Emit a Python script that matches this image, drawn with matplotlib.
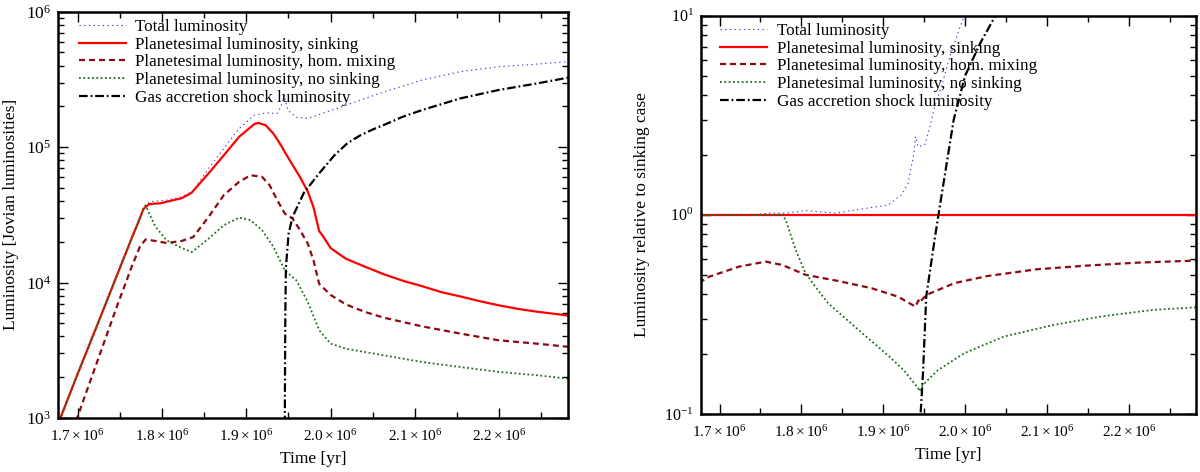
import matplotlib
matplotlib.use("Agg")
import matplotlib.pyplot as plt
from matplotlib.ticker import FixedLocator, FixedFormatter, MultipleLocator, LogLocator

plt.rcParams["font.family"] = ["Liberation Serif", "DejaVu Serif"]
plt.rcParams["mathtext.fontset"] = "stix"
plt.rcParams["font.size"] = 11

# ---- left panel: absolute luminosities [L_Jup] vs time [yr]
t_sink = [1.675e6, 1.701e6, 1.724e6, 1.747e6, 1.765e6, 1.772e6, 1.778e6, 1.785e6,
          1.798e6, 1.8235e6, 1.835e6, 1.8552e6, 1.8733e6, 1.8914e6, 1.9095e6, 1.914e6,
          1.9231e6, 1.9321e6, 1.9412e6, 1.948e6, 1.9548e6, 1.9638e6, 1.9729e6, 1.9797e6,
          1.9864e6, 1.991e6, 2.0e6, 2.0091e6, 2.0181e6, 2.0407e6, 2.0634e6, 2.086e6,
          2.1086e6, 2.1312e6, 2.1539e6, 2.1765e6, 2.1991e6, 2.2217e6, 2.2444e6, 2.283e6]
L_sink = [8.5e2, 2.2e3, 5.0e3, 1.15e4, 2.2e4, 2.8e4, 3.5e4, 3.8e4,
          3.85e4, 4.2e4, 4.6e4, 6.4e4, 8.7e4, 1.19e5, 1.48e5, 1.51e5,
          1.45e5, 1.26e5, 1.03e5, 8.7e4, 7.4e4, 6.0e4, 4.7e4, 3.6e4,
          2.4e4, 2.2e4, 1.8e4, 1.64e4, 1.50e4, 1.31e4, 1.15e4, 1.03e4,
          9.4e3, 8.5e3, 7.9e3, 7.3e3, 6.8e3, 6.4e3, 6.1e3, 5.7e3]

t_total = [1.675e6, 1.701e6, 1.724e6, 1.747e6, 1.765e6, 1.772e6, 1.778e6, 1.785e6,
           1.8054e6, 1.8235e6, 1.8371e6, 1.8552e6, 1.8733e6, 1.8914e6, 1.9095e6, 1.9231e6,
           1.9363e6, 1.9412e6, 1.9448e6, 1.9493e6, 1.9593e6, 1.9729e6, 1.9955e6, 2.0181e6,
           2.0634e6, 2.1086e6, 2.1539e6, 2.1991e6, 2.2444e6, 2.283e6]
L_total = [8.5e2, 2.2e3, 5.0e3, 1.15e4, 2.2e4, 2.8e4, 3.5e4, 3.95e4,
           4.06e4, 4.3e4, 4.75e4, 6.95e4, 9.8e4, 1.37e5, 1.72e5, 1.79e5,
           1.77e5, 1.99e5, 2.42e5, 1.87e5, 1.66e5, 1.63e5, 1.82e5, 2.04e5,
           2.56e5, 3.13e5, 3.61e5, 3.92e5, 4.1e5, 4.28e5]

t_hom = [1.698e6, 1.724e6, 1.7466e6, 1.7647e6, 1.7738e6, 1.7805e6, 1.7919e6, 1.8054e6,
         1.8235e6, 1.8371e6, 1.8552e6, 1.8733e6, 1.8914e6, 1.905e6, 1.9186e6, 1.9276e6,
         1.9367e6, 1.9457e6, 1.9548e6, 1.9638e6, 1.9729e6, 1.9797e6, 1.9864e6, 2.0e6,
         2.0181e6, 2.0407e6, 2.0634e6, 2.1086e6, 2.1539e6, 2.1991e6, 2.2444e6, 2.283e6]
L_hom = [9.5e2, 2.7e3, 6.7e3, 1.34e4, 1.84e4, 2.08e4, 2.03e4, 1.96e4,
         2.03e4, 2.17e4, 3.05e4, 4.42e4, 5.54e4, 6.2e4, 6.04e4, 5.24e4,
         4.06e4, 3.23e4, 2.97e4, 2.44e4, 1.94e4, 1.46e4, 9.8e3, 8.1e3,
         6.9e3, 6.07e3, 5.5e3, 4.75e3, 4.2e3, 3.75e3, 3.54e3, 3.35e3]

t_nosink = [1.675e6, 1.701e6, 1.724e6, 1.747e6, 1.765e6, 1.772e6, 1.778e6, 1.7805e6,
            1.7919e6, 1.8054e6, 1.8235e6, 1.8354e6, 1.8552e6, 1.8733e6, 1.8914e6, 1.905e6,
            1.9186e6, 1.9321e6, 1.9457e6, 1.9593e6, 1.9729e6, 1.9864e6, 2.0e6, 2.0181e6,
            2.0634e6, 2.1086e6, 2.1539e6, 2.1991e6, 2.2444e6, 2.283e6]
L_nosink = [8.5e2, 2.2e3, 5.0e3, 1.15e4, 2.2e4, 2.8e4, 3.5e4, 3.72e4,
            2.6e4, 2.05e4, 1.8e4, 1.68e4, 2.11e4, 2.65e4, 3.02e4, 2.89e4,
            2.44e4, 1.84e4, 1.23e4, 1.04e4, 7.2e3, 4.45e3, 3.54e3, 3.25e3,
            2.9e3, 2.59e3, 2.38e3, 2.19e3, 2.07e3, 1.95e3]

t_gas = [1.9452e6, 1.9458e6, 1.9463e6, 1.947e6, 1.9502e6, 1.9548e6, 1.9683e6, 1.9864e6,
         2.0045e6, 2.02e6, 2.035e6, 2.05e6, 2.0634e6, 2.085e6, 2.1086e6, 2.1539e6,
         2.1991e6, 2.2444e6, 2.283e6]
L_gas = [1e2, 1.5e3, 6e3, 1.3e4, 2.3e4, 3.05e4, 4.6e4, 6.4e4,
         8.7e4, 1.07e5, 1.22e5, 1.35e5, 1.46e5, 1.67e5, 1.88e5, 2.29e5,
         2.64e5, 2.95e5, 3.27e5]

# ---- right panel: luminosity relative to the sinking case
r_t_total = [1.675e6, 1.74e6, 1.7606e6, 1.7808e6, 1.805e6, 1.8414e6, 1.8737e6, 1.906e6,
             1.9222e6, 1.9303e6, 1.9343e6, 1.9376e6, 1.9392e6, 1.9424e6, 1.9505e6, 1.9558e6,
             1.9628e6, 1.972e6, 1.981e6, 1.993e6, 1.999e6, 2.006e6]
r_total = [1.0, 1.0, 1.02, 1.02, 1.05, 1.02, 1.07, 1.12,
           1.26, 1.44, 1.75, 2.04, 2.47, 2.2, 2.24, 2.66,
           3.48, 4.55, 6.18, 8.6, 10.0, 12.0]

r_t_sink = [1.675e6, 2.285e6]
r_sink = [1.0, 1.0]

r_t_hom = [1.675e6, 1.6879e6, 1.7242e6, 1.7566e6, 1.7767e6, 1.805e6, 1.8455e6, 1.8858e6,
           1.9182e6, 1.9392e6, 1.943e6, 1.944e6, 1.9525e6, 1.9869e6, 2.0273e6, 2.0879e6,
           2.1485e6, 2.2091e6, 2.285e6]
r_hom = [0.456, 0.49, 0.55, 0.582, 0.56, 0.5, 0.465, 0.428,
         0.388, 0.346, 0.372, 0.362, 0.396, 0.454, 0.493, 0.533,
         0.556, 0.575, 0.59]

r_t_nosink = [1.675e6, 1.7767e6, 1.781e6, 1.793e6, 1.805e6, 1.817e6, 1.8326e6, 1.8512e6,
              1.879e6, 1.907e6, 1.9256e6, 1.9424e6, 1.944e6, 1.9485e6, 1.9667e6, 1.999e6,
              2.0475e6, 2.1081e6, 2.1687e6, 2.2293e6, 2.285e6]
r_nosink = [1.0, 1.0, 0.94, 0.667, 0.51, 0.436, 0.36, 0.308,
            0.245, 0.195, 0.165, 0.135, 0.13, 0.14, 0.166, 0.202,
            0.245, 0.28, 0.31, 0.333, 0.344]

r_t_gas = [1.944e6, 1.9456e6, 1.9485e6, 1.9525e6, 1.9627e6, 1.9674e6, 1.986e6, 2.0e6,
           2.0186e6, 2.037e6, 2.047e6]
r_gas = [0.07, 0.1, 0.16, 0.39, 0.75, 1.0, 3.0, 5.0, 7.3, 10.0, 12.0]

labels = ["Total luminosity",
          "Planetesimal luminosity, sinking",
          "Planetesimal luminosity, hom. mixing",
          "Planetesimal luminosity, no sinking",
          "Gas accretion shock luminosity"]

x_ticks = [1.7e6, 1.8e6, 1.9e6, 2.0e6, 2.1e6, 2.2e6]
x_tick_labels = [r"$\mathdefault{1.7\times10^{6}}$", r"$\mathdefault{1.8\times10^{6}}$",
                 r"$\mathdefault{1.9\times10^{6}}$", r"$\mathdefault{2.0\times10^{6}}$",
                 r"$\mathdefault{2.1\times10^{6}}$", r"$\mathdefault{2.2\times10^{6}}$"]

c_total = "#3a3ad8"
c_sink = "#ff0000"
c_hom = "#8b0a14"
c_nosink = "#1c6e1c"
c_gas = "black"

fig = plt.figure(figsize=(12, 4.72), dpi=100)
ax1 = fig.add_axes([0.0486, 0.1144, 0.425, 0.8608])
ax2 = fig.add_axes([0.5839, 0.1229, 0.4128, 0.8439])


def draw(ax, series):
    (tt, lt), (ts, ls), (th, lh), (tn, ln), (tg, lg) = series
    ax.plot(tt, lt, color=c_total, lw=0.8, dashes=(1.2, 3.0), label=labels[0])
    ax.plot(ts, ls, color=c_sink, lw=1.6, label=labels[1])
    ax.plot(th, lh, color=c_hom, lw=1.6, dashes=(2.7, 1.8), label=labels[2])
    ax.plot(tn, ln, color=c_nosink, lw=1.3, dashes=(1.0, 1.4), label=labels[3])
    ax.plot(tg, lg, color=c_gas, lw=1.6, dashes=(3.9, 1.3, 0.8, 1.3), label=labels[4])
    ax.set_yscale("log")
    ax.set_xlim(1.677e6, 2.282e6)
    ax.xaxis.set_major_locator(FixedLocator(x_ticks))
    ax.xaxis.set_major_formatter(FixedFormatter(x_tick_labels))
    ax.xaxis.set_minor_locator(MultipleLocator(5e4))
    ax.yaxis.set_minor_locator(LogLocator(base=10, subs=range(2, 10)))
    ax.tick_params(which="both", direction="in", top=True, right=True, width=1)
    ax.tick_params(which="major", length=7)
    ax.tick_params(which="minor", length=4)
    ax.tick_params(axis="x", pad=7)
    ax.tick_params(axis="y", pad=5)
    for s in ax.spines.values():
        s.set_linewidth(1.8)
    ax.set_xlabel("Time [yr]", fontsize=12.5, labelpad=5)
    ax.legend(loc="upper left", bbox_to_anchor=(0.04, 0.982), frameon=False,
              borderpad=0, borderaxespad=0, handlelength=2.75, handletextpad=0.55,
              labelspacing=0.1, fontsize=12.3)


draw(ax1, [(t_total, L_total), (t_sink, L_sink), (t_hom, L_hom),
           (t_nosink, L_nosink), (t_gas, L_gas)])
ax1.set_ylim(1e3, 1e6)
ax1.tick_params(axis="y", labelsize=12.5)
ax1.set_ylabel("Luminosity [Jovian luminosities]", fontsize=12.5, labelpad=5)

draw(ax2, [(r_t_total, r_total), (r_t_sink, r_sink), (r_t_hom, r_hom),
           (r_t_nosink, r_nosink), (r_t_gas, r_gas)])
ax2.set_ylim(0.1, 10)
ax2.tick_params(axis="y", labelsize=11.5)
ax2.set_ylabel("Luminosity relative to sinking case", fontsize=12.5, labelpad=10)

fig.savefig("out.png", dpi=100)
